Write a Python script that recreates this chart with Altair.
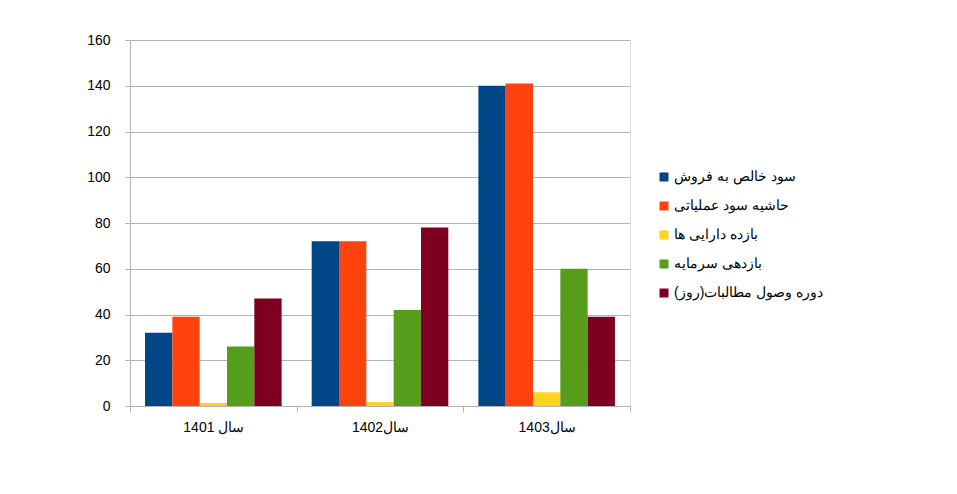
import altair as alt
import pandas as pd

years = ["سال 1401", "سال1402", "سال1403"]
series = [
    "سود خالص به فروش",
    "حاشیه سود عملیاتی",
    "بازده دارایی ها",
    "بازدهی سرمایه",
    "\u200fدوره وصول مطالبات(روز)\u200f",
]
colors = ["#004586", "#ff420e", "#ffd320", "#579d1c", "#7e0021"]

v_1401 = [32, 39, 1.3, 26, 47]
v_1402 = [72, 72, 1.7, 42, 78]
v_1403 = [140, 141, 6, 60, 39]

rows = []
for y, vals in zip(years, [v_1401, v_1402, v_1403]):
    for s, v in zip(series, vals):
        rows.append({"year": y, "series": s, "value": v})
df = pd.DataFrame(rows)

font = "Liberation Sans"
grey = "#b3b3b3"

chart = alt.Chart(df).mark_bar().encode(
    x=alt.X("year:N", sort=years,
            scale=alt.Scale(paddingInner=0, paddingOuter=0),
            axis=alt.Axis(title=None, labelAngle=0, tickBand="extent",
                          domainColor=grey, tickColor=grey, tickSize=6,
                          labelPadding=8, labelFontSize=14, labelColor="#000",
                          labelFont=font, grid=False)),
    xOffset=alt.XOffset("series:N", sort=series,
                        scale=alt.Scale(paddingInner=0, paddingOuter=0.55)),
    y=alt.Y("value:Q", scale=alt.Scale(domain=[0, 160], nice=False),
            axis=alt.Axis(title=None, values=list(range(0, 161, 20)),
                          domainColor=grey, tickColor=grey, tickSize=5,
                          gridColor=grey, labelPadding=15, labelFontSize=14,
                          labelColor="#000", labelFont=font)),
    color=alt.Color("series:N", sort=series,
                    scale=alt.Scale(domain=series, range=colors),
                    legend=alt.Legend(title=None, orient="none",
                                      legendX=527, legendY=130,
                                      symbolType="square", symbolSize=81,
                                      symbolStrokeWidth=0,
                                      labelFontSize=14, labelFont=font,
                                      labelColor="#000", labelLimit=400,
                                      rowPadding=15, padding=0, labelOffset=3)),
).properties(
    width=500, height=366,
    autosize=alt.AutoSizeParams(type="none"),
    padding={"left": 122, "top": 32, "right": 319, "bottom": 72},
).configure_view(stroke=None).configure(background="white")

chart.save("out.html", embed_options={"renderer": "svg", "actions": False})
